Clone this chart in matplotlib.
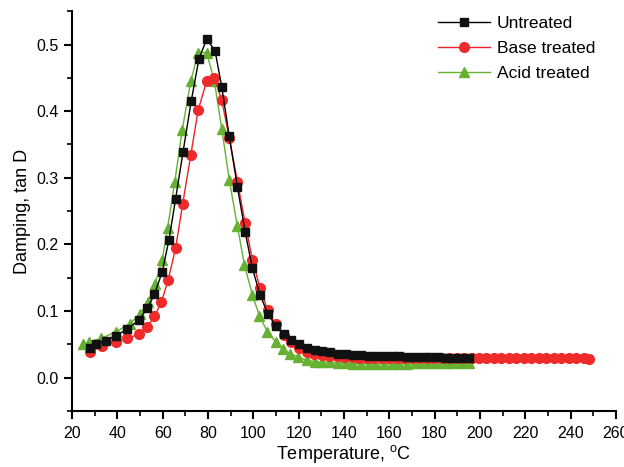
import matplotlib
matplotlib.use("Agg")
import matplotlib.pyplot as plt
from matplotlib.ticker import MultipleLocator

plt.rcParams['font.family'] = ['Liberation Sans', 'DejaVu Sans']
plt.rcParams['mathtext.fontset'] = 'custom'
plt.rcParams['mathtext.rm'] = 'Liberation Sans'

# Untreated
untreated_T = [28.0, 30.6, 34.8, 39.2, 44.2, 49.5, 53.2, 56.4, 59.8, 62.8,
               65.7, 69.0, 72.6, 76.0, 79.4, 83.1, 86.1, 89.4, 93.0, 96.4,
               99.6, 103.0, 106.4, 109.8, 113.4, 116.8, 120.2, 123.7, 127.1, 130.5,
               133.9, 137.3, 140.7, 144.1, 147.5, 150.9, 154.3, 157.7, 161.1, 164.5,
               167.9, 171.3, 174.7, 178.1, 181.5, 184.9, 188.3, 191.7, 195.0]
untreated_tan = [0.045, 0.050, 0.055, 0.062, 0.073, 0.086, 0.104, 0.125, 0.159, 0.207,
                 0.268, 0.339, 0.415, 0.478, 0.508, 0.491, 0.436, 0.362, 0.286, 0.219,
                 0.164, 0.124, 0.096, 0.078, 0.065, 0.056, 0.050, 0.045, 0.042, 0.040,
                 0.038, 0.036, 0.035, 0.034, 0.034, 0.033, 0.033, 0.032, 0.032, 0.032,
                 0.031, 0.031, 0.031, 0.031, 0.031, 0.030, 0.030, 0.030, 0.030]

# Base treated
base_T = [28.0, 33.3, 39.2, 44.4, 49.4, 53.1, 56.4, 59.4, 62.4, 65.7,
          68.8, 72.4, 75.7, 79.4, 82.8, 86.1, 89.4, 93.0, 96.4, 99.6,
          103.0, 106.4, 109.8, 113.4, 116.8, 120.2, 123.7, 127.0, 130.3, 133.6,
          136.9, 140.2, 143.5, 146.8, 150.1, 153.4, 156.7, 160.0, 163.3, 166.6,
          169.9, 173.2, 176.5, 179.8, 183.1, 186.4, 189.7, 193.0, 196.3, 199.6,
          202.9, 206.2, 209.5, 212.8, 216.1, 219.4, 222.7, 226.0, 229.3, 232.6,
          235.9, 239.2, 242.5, 245.8, 248.0]
base_tan = [0.039, 0.047, 0.054, 0.059, 0.065, 0.076, 0.092, 0.113, 0.146, 0.194,
            0.260, 0.334, 0.402, 0.445, 0.450, 0.416, 0.360, 0.294, 0.232, 0.177,
            0.134, 0.101, 0.080, 0.064, 0.054, 0.045, 0.039, 0.036, 0.034, 0.033,
            0.032, 0.031, 0.031, 0.030, 0.030, 0.030, 0.030, 0.030, 0.030, 0.030,
            0.030, 0.030, 0.030, 0.030, 0.030, 0.030, 0.030, 0.030, 0.030, 0.030,
            0.030, 0.030, 0.030, 0.030, 0.030, 0.030, 0.030, 0.030, 0.030, 0.030,
            0.030, 0.030, 0.029, 0.029, 0.028]

# Acid treated
acid_T = [24.9, 27.5, 33.0, 39.5, 45.5, 49.9, 53.6, 56.6, 59.8, 62.2,
          65.3, 68.6, 72.4, 75.7, 79.4, 82.8, 86.1, 89.4, 93.0, 96.1,
          99.6, 102.7, 106.2, 109.8, 113.0, 116.2, 119.7, 123.7, 127.1, 130.5,
          133.9, 137.3, 140.7, 144.1, 147.5, 150.9, 154.3, 157.7, 161.1, 164.5,
          167.9, 171.3, 174.7, 178.1, 181.5, 184.9, 188.3, 191.7, 195.0]
acid_tan = [0.050, 0.054, 0.059, 0.069, 0.081, 0.095, 0.113, 0.140, 0.177, 0.225,
            0.293, 0.371, 0.445, 0.488, 0.488, 0.445, 0.373, 0.297, 0.227, 0.169,
            0.124, 0.093, 0.069, 0.054, 0.043, 0.036, 0.031, 0.026, 0.024, 0.023,
            0.023, 0.022, 0.022, 0.021, 0.021, 0.021, 0.021, 0.021, 0.021, 0.021,
            0.021, 0.022, 0.022, 0.022, 0.022, 0.022, 0.022, 0.022, 0.022]

labels = ["Untreated", "Base treated", "Acid treated"]

fig = plt.figure(figsize=(6.24, 4.67), dpi=100)
ax = fig.add_axes([0.1154, 0.12, 0.987 - 0.1154, 0.976 - 0.12])

ax.plot(untreated_T, untreated_tan, color='black', lw=1.0, marker='s', ms=6,
        mfc='#111111', mec='#111111', label=labels[0], zorder=3)
ax.plot(base_T, base_tan, color='#ee2222', lw=1.0, marker='o', ms=7,
        mfc='#ee2a2a', mec='#ee2a2a', label=labels[1], zorder=2)
ax.plot(acid_T, acid_tan, color='#66b032', lw=1.0, marker='^', ms=7.5,
        mfc='#66b032', mec='#66b032', label=labels[2], zorder=1)

ax.set_xlim(20, 260)
ax.set_ylim(-0.05, 0.55)
ax.xaxis.set_major_locator(MultipleLocator(20))
ax.xaxis.set_minor_locator(MultipleLocator(10))
ax.yaxis.set_major_locator(MultipleLocator(0.1))
ax.yaxis.set_minor_locator(MultipleLocator(0.05))
ax.yaxis.set_major_formatter(plt.FuncFormatter(lambda v, p: f"{v:.1f}"))

for s in ['top', 'right']:
    ax.spines[s].set_visible(False)
for s in ['left', 'bottom']:
    ax.spines[s].set_linewidth(1.5)
ax.tick_params(which='major', direction='out', length=6, width=1.5, labelsize=11.5)
ax.tick_params(axis='x', which='major', pad=5)
ax.tick_params(which='minor', direction='out', length=3.5, width=1.2)

ax.set_xlabel('Temperature, $^{\\mathrm{o}}$C', fontsize=13, labelpad=1)
ax.set_ylabel('Damping, tan D', fontsize=13, labelpad=4)

leg = ax.legend(loc='upper left', bbox_to_anchor=(0.66, 1.005), frameon=False,
                fontsize=12.5, handlelength=3.0, handletextpad=0.4,
                labelspacing=0.55, borderaxespad=0)

fig.savefig('out.png', dpi=100)
